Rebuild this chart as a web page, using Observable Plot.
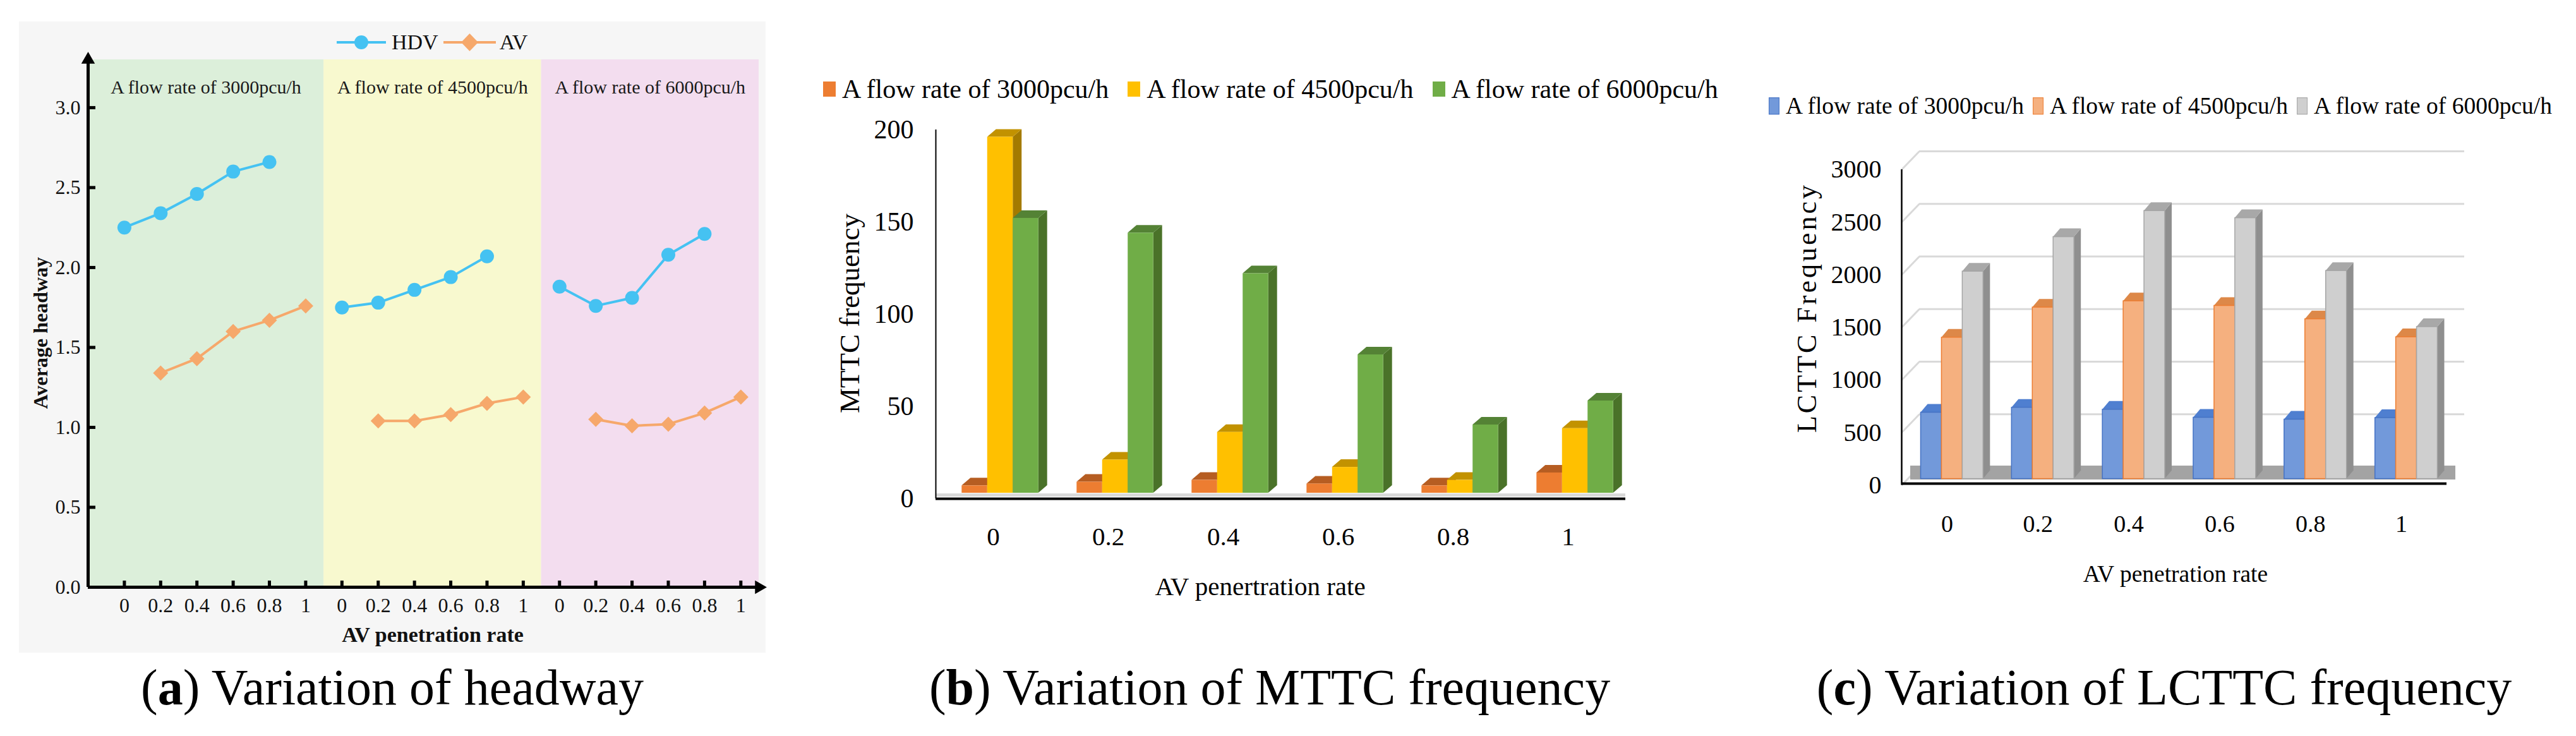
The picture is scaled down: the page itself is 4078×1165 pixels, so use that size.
<!DOCTYPE html>
<html><head><meta charset="utf-8">
<script src="https://cdn.jsdelivr.net/npm/d3@7"></script>
<script src="https://cdn.jsdelivr.net/npm/@observablehq/plot@0.6"></script>
<style>
html,body{margin:0;padding:0;background:#fff;}
#root{position:relative;width:4078px;height:1165px;overflow:hidden;font-family:"Liberation Serif","Times New Roman",serif;color:#000;}
#root svg{position:absolute;overflow:visible;}
.t{position:absolute;white-space:nowrap;line-height:1;}
.ctr{transform:translate(-50%,-50%);}
.rot{transform:translate(-50%,-50%) rotate(-90deg);}
.legend{position:absolute;display:flex;align-items:center;white-space:nowrap;line-height:1;transform:translateY(-50%);}
</style></head>
<body><div id="root"></div>
<script>
// ---------- data ----------
const rates = ["0", "0.2", "0.4", "0.6", "0.8", "1"];
const flowRates = ["A flow rate of 3000pcu/h", "A flow rate of 4500pcu/h", "A flow rate of 6000pcu/h"];

// (a) average headway
const hdv3000 = [2.25, 2.34, 2.46, 2.60, 2.66, null];
const hdv4500 = [1.75, 1.78, 1.86, 1.94, 2.07, null];
const hdv6000 = [1.88, 1.76, 1.81, 2.08, 2.21, null];
const av3000 = [null, 1.34, 1.43, 1.60, 1.67, 1.76];
const av4500 = [null, 1.04, 1.04, 1.08, 1.15, 1.19];
const av6000 = [null, 1.05, 1.01, 1.02, 1.09, 1.19];
const headwayTicks = [0, 0.5, 1, 1.5, 2, 2.5, 3];

// (b) MTTC frequency
const mttc3000 = [4, 6, 7, 5, 4, 11];
const mttc4500 = [193, 18, 33, 14, 7, 35];
const mttc6000 = [149, 141, 119, 75, 37, 50];
const mttcTicks = [0, 50, 100, 150, 200];

// (c) LCTTC frequency
const lcttc3000 = [631, 678, 659, 583, 565, 580];
const lcttc4500 = [1344, 1630, 1690, 1646, 1519, 1348];
const lcttc6000 = [1972, 2300, 2548, 2480, 1978, 1445];
const lcttcTicks = [0, 500, 1000, 1500, 2000, 2500, 3000];

// ---------- helpers ----------
const root = document.getElementById("root");
const FONT = '"Liberation Serif", "Times New Roman", serif';
function put(svg, left, top) { svg.style.left = left + "px"; svg.style.top = top + "px"; root.appendChild(svg); }
function text(html, x, y, size, cls, extra = {}) {
  const d = document.createElement("div");
  d.className = "t " + cls;
  d.innerHTML = html;
  Object.assign(d.style, {left: x + "px", top: y + "px", fontSize: size + "px"}, extra);
  root.appendChild(d);
  return d;
}
function legend(items, left, cy, size, gap) {
  const d = document.createElement("div");
  d.className = "legend";
  Object.assign(d.style, {left: left + "px", top: cy + "px", fontSize: size + "px"});
  items.forEach((it, i) => {
    const sw = document.createElement("span");
    Object.assign(sw.style, {display: "inline-block", width: it.w + "px", height: it.h + "px", background: it.fill,
      boxSizing: "border-box", border: it.border ? "1.5px solid " + it.border : "none", marginRight: "10px",
      marginLeft: i ? gap + "px" : "0"});
    const tx = document.createElement("span");
    tx.textContent = it.label;
    d.appendChild(sw); d.appendChild(tx);
  });
  root.appendChild(d);
}

// ---------- (a) ----------
const hdvColor = "#45c2f2", avColor = "#f6a86b";
const bandFills = ["#dcefda", "#f8f9cf", "#f3ddef"];
const box = document.createElement("div");
Object.assign(box.style, {position: "absolute", left: "30px", top: "34px", width: "1182px", height: "999px", background: "#f6f6f6"});
root.appendChild(box);

const W_A = 1182, H_A = 999, ML_A = 109, MR_A = 11, MT_A = 60, MB_A = 104;
const hdvSeries = [hdv3000, hdv4500, hdv6000], avSeries = [av3000, av4500, av6000];
const rowsA = [];
flowRates.forEach((f, fi) => rates.forEach((r, ri) =>
  rowsA.push({flow: f, pos: fi * rates.length + ri, hdv: hdvSeries[fi][ri], av: avSeries[fi][ri]})));
const nPos = rowsA.length;
const xMinA = -1, xMaxA = nPos - 0.5, yTopA = 3.3;
const bandsA = flowRates.map((f, fi) => ({flow: f,
  x1: fi === 0 ? xMinA : fi * rates.length - 0.5, x2: (fi + 1) * rates.length - 0.5, fill: bandFills[fi]}));
const unitXA = (W_A - ML_A - MR_A) / (xMaxA - xMinA), unitYA = (H_A - MT_A - MB_A) / yTopA;

const plotA = Plot.plot({
  width: W_A, height: H_A, marginLeft: ML_A, marginRight: MR_A, marginTop: MT_A, marginBottom: MB_A,
  style: {background: "none", fontFamily: FONT, fontSize: "32px", color: "#111"},
  x: {domain: [xMinA, xMaxA], label: null},
  y: {domain: [0, yTopA], label: null},
  color: {type: "identity"},
  marks: [
    Plot.rect(bandsA, {x1: "x1", x2: "x2", y1: 0, y2: yTopA, fill: "fill"}),
    Plot.text(bandsA, {x: d => (d.x1 + d.x2) / 2, frameAnchor: "top", dy: 32, text: "flow", fontSize: 30, fill: "#1a1a1a"}),
    Plot.ruleY(headwayTicks, {x1: xMinA, x2: xMinA + 12 / unitXA, strokeWidth: 5, stroke: "#000"}),
    Plot.ruleX(d3.range(nPos), {y1: 0, y2: 10 / unitYA, strokeWidth: 5, stroke: "#000"}),
    Plot.ruleX([xMinA], {y1: 0, y2: yTopA, strokeWidth: 5, stroke: "#000"}),
    Plot.ruleY([0], {x1: xMinA, x2: xMaxA, strokeWidth: 5, stroke: "#000"}),
    Plot.dot([0], {x: () => xMinA, y: () => yTopA, symbol: "triangle", r: 8, fill: "#000"}),
    Plot.dot([0], {x: () => xMaxA, y: () => 0, symbol: "triangle", r: 8, fill: "#000", rotate: 90}),
    Plot.axisY(headwayTicks, {tickSize: 0, tickPadding: 12, tickFormat: d => d.toFixed(1), fontSize: 32, label: null}),
    Plot.axisX(d3.range(nPos), {tickSize: 0, tickPadding: 17, tickFormat: i => rates[i % rates.length], fontSize: 32, label: null}),
    Plot.line(rowsA.filter(d => d.hdv != null), {x: "pos", y: "hdv", z: "flow", stroke: hdvColor, strokeWidth: 4}),
    Plot.dot(rowsA.filter(d => d.hdv != null), {x: "pos", y: "hdv", r: 11, fill: hdvColor}),
    Plot.line(rowsA.filter(d => d.av != null), {x: "pos", y: "av", z: "flow", stroke: avColor, strokeWidth: 4}),
    Plot.dot(rowsA.filter(d => d.av != null), {x: "pos", y: "av", r: 10.8, symbol: "diamond2", fill: avColor})
  ]
});
put(plotA, 30, 34);

// legend (a)
(function () {
  const d = document.createElement("div");
  d.className = "legend";
  Object.assign(d.style, {left: "533px", top: "67px", fontSize: "34px", color: "#111"});
  d.innerHTML =
    `<svg width="78" height="30" style="position:static"><line x1="0" x2="78" y1="15" y2="15" stroke="${hdvColor}" stroke-width="4"/><circle cx="39" cy="15" r="11" fill="${hdvColor}"/></svg>` +
    `<span style="margin-left:9px">HDV</span>` +
    `<svg width="83" height="32" style="position:static;margin-left:8px"><line x1="0" x2="83" y1="16" y2="16" stroke="${avColor}" stroke-width="4"/><path d="M41.5,2 L55,16 L41.5,30 L28,16Z" fill="${avColor}"/></svg>` +
    `<span style="margin-left:6px">AV</span>`;
  root.appendChild(d);
})();
text("Average headway", 64, 527, 32, "rot", {fontWeight: "bold", color: "#111"});
text("AV penetration rate", 685, 1005, 34, "ctr", {fontWeight: "bold", color: "#111"});
text("(<b>a</b>) Variation of headway", 621, 1048, 80, "", {lineHeight: "80px", transform: "translateX(-50%)"});

// ---------- 3D-looking grouped bars ----------
function barsTable(series, groupW) {
  const rows = [];
  series.forEach((vals, j) => vals.forEach((v, i) => {
    const x1 = i - groupW / 2 + j * groupW / series.length;
    rows.push({k: rows.length, series: j, group: i, value: v, x1, x2: x1 + groupW / series.length});
  }));
  return rows;
}
// top and side faces as parallelograms (depth given in pixels, converted with the scale's unit size)
function faces(bars, depthPx, risePx, unitX, unitY) {
  const dX = depthPx / unitX, dY = risePx / unitY;
  const top = [], side = [];
  bars.forEach(b => {
    top.push({k: b.k, series: b.series, y: b.value, x1: b.x1, x2: b.x2});
    top.push({k: b.k, series: b.series, y: b.value + dY, x1: b.x1 + dX, x2: b.x2 + dX});
    side.push({k: b.k, series: b.series, x: b.x2, y1: 0, y2: b.value});
    side.push({k: b.k, series: b.series, x: b.x2 + dX, y1: dY, y2: b.value + dY});
  });
  return {top, side};
}

// ---------- (b) ----------
const W_B = 1220, H_B = 700, ML_B = 81, MR_B = 47, MT_B = 25, MB_B = 91;
const frontB = ["#ed7d31", "#ffc000", "#70ad47"], topB = ["#b65d22", "#c29200", "#548235"], sideB = ["#9c4f1a", "#a37a00", "#4a7229"];
const barsB = barsTable([mttc3000, mttc4500, mttc6000], 0.667);
const unitXB = (W_B - ML_B - MR_B) / 6, unitYB = (H_B - MT_B - MB_B) / 200;
const facesB = faces(barsB, 14, 12, unitXB, unitYB);
const plotB = Plot.plot({
  width: W_B, height: H_B, marginLeft: ML_B, marginRight: MR_B, marginTop: MT_B, marginBottom: MB_B,
  style: {background: "none", fontFamily: FONT, fontSize: "42px", color: "#000"},
  x: {domain: [-0.5, 5.5], label: null},
  y: {domain: [0, 200], label: null},
  color: {type: "identity"},
  marks: [
    Plot.ruleY([0], {dy: -6, stroke: "#d9d9d9", strokeWidth: 5}),
    Plot.areaY(facesB.side, {x: "x", y1: "y1", y2: "y2", z: "k", dx: 11, dy: -9, fill: d => sideB[d.series]}),
    Plot.areaX(facesB.top, {y: "y", x1: "x1", x2: "x2", z: "k", dx: 11, dy: -9, fill: d => topB[d.series]}),
    Plot.rect(barsB, {x1: "x1", x2: "x2", y1: 0, y2: "value", dx: 11, dy: -9, fill: d => frontB[d.series]}),
    Plot.ruleY([0], {strokeWidth: 4, stroke: "#000"}),
    Plot.ruleX([-0.5], {y1: 0, y2: 200, strokeWidth: 2, stroke: "#000"}),
    Plot.axisY(mttcTicks, {tickSize: 0, tickPadding: 35, tickFormat: d => String(d), fontSize: 42, label: null}),
    Plot.axisX(d3.range(rates.length), {tickSize: 0, tickPadding: 44, tickFormat: i => rates[i], fontSize: 41, label: null})
  ]
});
put(plotB, 1400, 180);
legend(flowRates.map((f, j) => ({label: f, fill: frontB[j], w: 20, h: 24})), 1303, 141, 42, 30);
text("MTTC frequency", 1345, 496, 45, "rot");
text("AV penertration rate", 1995, 928, 41, "ctr");
text("(<b>b</b>) Variation of MTTC frequency", 2010, 1048, 80, "", {lineHeight: "80px", transform: "translateX(-50%)"});

// ---------- (c) ----------
const W_C = 1020, H_C = 660, ML_C = 70, MR_C = 87, MT_C = 48, MB_C = 112.4;
const frontC = ["#7299da", "#f5b07f", "#cfcfcf"], edgeC = ["#4472c4", "#ed7d31", "#a5a5a5"];
const topC = ["#4f7fd0", "#dd8848", "#a8a8a8"], sideC = ["#3f69b8", "#e07b2e", "#8f8f8f"];
const barsC = barsTable([lcttc3000, lcttc4500, lcttc6000], 0.687);
const unitXC = (W_C - ML_C - MR_C) / 6, unitYC = (H_C - MT_C - MB_C) / 3000;
const facesC = faces(barsC, 11, 13, unitXC, unitYC);
const gridC = lcttcTicks.filter(t => t > 0);
const plotC = Plot.plot({
  width: W_C, height: H_C, marginLeft: ML_C, marginRight: MR_C, marginTop: MT_C, marginBottom: MB_C,
  style: {background: "none", fontFamily: FONT, fontSize: "40px", color: "#000"},
  x: {domain: [-0.5, 5.5], label: null},
  y: {domain: [0, 3000], label: null},
  color: {type: "identity"},
  marks: [
    Plot.ruleY(gridC, {dx: 28, dy: -29, stroke: "#d9d9d9", strokeWidth: 3}),
    Plot.link(lcttcTicks, {x1: () => -0.5, y1: d => d, x2: () => -0.5 + 28 / unitXC, y2: d => d + 29 / unitYC, stroke: "#d9d9d9", strokeWidth: 3}),
    Plot.ruleY([0], {dx: 14, dy: -20, strokeWidth: 22, stroke: "#a3a3a3"}),
    Plot.areaY(facesC.side, {x: "x", y1: "y1", y2: "y2", z: "k", dx: 8, dy: -10, fill: d => sideC[d.series]}),
    Plot.areaX(facesC.top, {y: "y", x1: "x1", x2: "x2", z: "k", dx: 8, dy: -10, fill: d => topC[d.series]}),
    Plot.rect(barsC, {x1: "x1", x2: "x2", y1: 0, y2: "value", dx: 8, dy: -10, fill: d => frontC[d.series], stroke: d => edgeC[d.series], strokeWidth: 1.5}),
    Plot.ruleY([0], {dy: -2.5, strokeWidth: 4, stroke: "#000"}),
    Plot.ruleX([-0.5], {y1: 0, y2: 3000, strokeWidth: 2.5, stroke: "#000"}),
    Plot.axisY(lcttcTicks, {tickSize: 0, tickPadding: 32, tickFormat: d => String(d), fontSize: 40, label: null}),
    Plot.axisX(d3.range(rates.length), {tickSize: 0, tickPadding: 47, tickFormat: i => rates[i], fontSize: 38, label: null})
  ]
});
put(plotC, 2940, 220);
legend(flowRates.map((f, j) => ({label: f, fill: frontC[j], border: edgeC[j], w: 17, h: 27})), 2800, 168, 37.5, 14);
text("LCTTC Frequency", 2861, 487, 44, "rot", {letterSpacing: "4px"});
text("AV penetration rate", 3444, 909, 37.5, "ctr");
text("(<b>c</b>) Variation of LCTTC frequency", 3426, 1048, 80, "", {lineHeight: "80px", transform: "translateX(-50%)"});
</script>
</body></html>
